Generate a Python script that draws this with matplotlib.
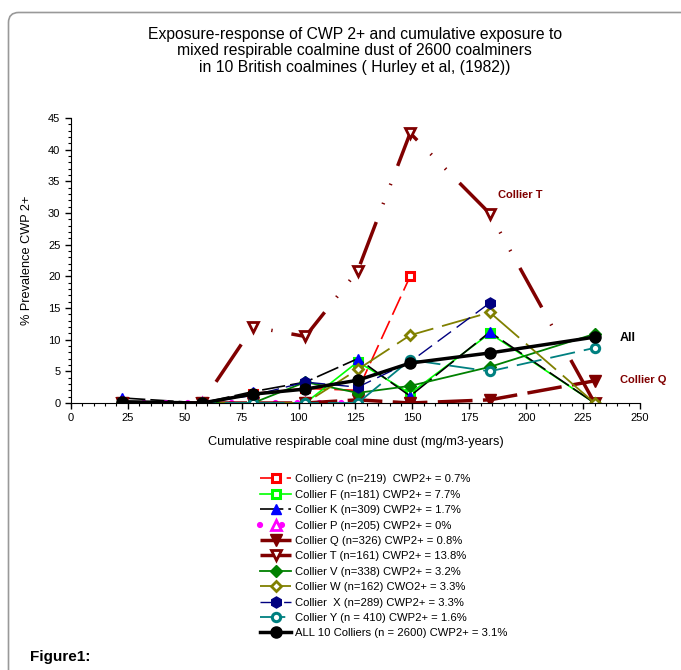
import numpy as np
import matplotlib
matplotlib.use("Agg")
import matplotlib.pyplot as plt
from matplotlib.patches import FancyBboxPatch
from matplotlib.ticker import MultipleLocator

plt.rcParams['font.family'] = ['Liberation Sans', 'DejaVu Sans']

# --- DADOS ---
exposure = [22.5, 57.5, 80, 103, 126, 149, 184, 230]

coll_C = [0, 0, 1.5, 2.3, 2.0, 20.0, np.nan, np.nan]
coll_F = [0, 0, 0, 0, 6.5, 1.5, 11.0, 0]
coll_K = [0.8, 0, 1.8, 3.3, 7.0, 1.1, 11.2, 0]
coll_P = [0, 0, 0, 0, 0, np.nan, np.nan, np.nan]
coll_Q = [0, 0, 0, 0, 0.5, 0, 0.5, 3.5]
coll_T = [0, 0, 12.0, 10.5, 20.9, 42.6, 29.9, 0]
coll_V = [0, 0, 0, 3.3, 1.6, 2.7, 5.7, 10.9]
coll_W = [0, 0, 0, 0, 5.3, 10.7, 14.3, 0]
coll_X = [0, 0, 1.2, 3.3, 2.5, 6.5, 15.8, np.nan]
coll_Y = [0, 0, 0, 0, 0, 6.8, 5.0, 8.7]
all_10 = [0.2, 0, 1.4, 2.2, 3.6, 6.3, 7.9, 10.4]

labels = [
    "Colliery C (n=219)  CWP2+ = 0.7%",
    "Collier F (n=181) CWP2+ = 7.7%",
    "Collier K (n=309) CWP2+ = 1.7%",
    "Collier P (n=205) CWP2+ = 0%",
    "Collier Q (n=326) CWP2+ = 0.8%",
    "Collier T (n=161) CWP2+ = 13.8%",
    "Collier V (n=338) CWP2+ = 3.2%",
    "Collier W (n=162) CWO2+ = 3.3%",
    "Collier  X (n=289) CWP2+ = 3.3%",
    "Collier Y (n = 410) CWP2+ = 1.6%",
    "ALL 10 Colliers (n = 2600) CWP2+ = 3.1%",
]

# --- FIGURA ---
fig = plt.figure(figsize=(6.81, 6.70), dpi=100)
ax = fig.add_axes([0.104, 0.3985, 0.836, 0.4255])

dred = "#800000"
ms = 6

# Colliery C
ax.plot(exposure, coll_C, color="red", lw=1.2, ls=(0, (12, 4)),
        marker="s", ms=ms, mfc="white", mec="red", mew=2.2, label=labels[0])
# Collier F
ax.plot(exposure, coll_F, color="lime", lw=1.2,
        marker="s", ms=ms, mfc="white", mec="lime", mew=2.2, label=labels[1])
# Collier K
ax.plot(exposure, coll_K, color="black", lw=1.2, ls=(0, (14, 3)),
        marker="^", ms=ms + 1.5, mfc="blue", mec="blue", label=labels[2])
# Collier P
ax.plot(exposure, coll_P, color="magenta", lw=4.5, ls=(0, (0.01, 3.5)),
        dash_capstyle="round",
        marker="^", ms=ms + 1, mfc="white", mec="magenta", mew=2, label=labels[3])
# Collier Q
ax.plot(exposure, coll_Q, color=dred, lw=2.5, ls=(0, (10, 3)),
        marker="v", ms=ms + 2, mfc=dred, mec=dred, label=labels[4])
# Collier T
ax.plot(exposure, coll_T, color=dred, lw=2.5, ls=(0, (13, 5.5, 0.4, 5.5, 0.4, 5.5)),
        marker="v", ms=ms + 1.5, mfc="white", mec=dred, mew=2, label=labels[5])
# Collier V
ax.plot(exposure, coll_V, color="green", lw=1.3,
        marker="D", ms=ms, mfc="green", mec="green", label=labels[6])
# Collier W
ax.plot(exposure, coll_W, color="olive", lw=1.3, ls=(0, (22, 5)),
        marker="D", ms=ms - 0.5, mfc="white", mec="olive", mew=2, label=labels[7])
# Collier X
ax.plot(exposure, coll_X, color="navy", lw=1.0, ls=(0, (12, 5)),
        marker="h", ms=ms + 2, mfc="navy", mec="navy", label=labels[8])
# Collier Y
ax.plot(exposure, coll_Y, color="teal", lw=1.3, ls=(0, (14, 5)),
        marker="o", ms=ms, mfc="white", mec="teal", mew=2.2, label=labels[9])
# Todos
ax.plot(exposure, all_10, color="black", lw=2.5,
        marker="o", ms=ms + 2, mfc="black", mec="black", label=labels[10])

ax.set_xlim(0, 250)
ax.set_ylim(0, 45)
ax.xaxis.set_major_locator(MultipleLocator(25))
ax.xaxis.set_minor_locator(MultipleLocator(5))
ax.yaxis.set_major_locator(MultipleLocator(5))
ax.yaxis.set_minor_locator(MultipleLocator(1))
ax.tick_params(which="major", length=4, labelsize=8, width=1)
ax.tick_params(which="minor", length=2.5, width=0.8)
ax.spines["top"].set_visible(False)
ax.spines["right"].set_visible(False)
ax.set_xlabel("Cumulative respirable coal mine dust (mg/m3-years)", fontsize=9.2, labelpad=9)
ax.set_ylabel("% Prevalence CWP 2+", fontsize=9.2, labelpad=11)

# Anotações
ax.text(187.5, 32.8, "Collier T", color=dred, fontsize=8, fontweight="bold", va="center")
ax.text(241, 10.3, "All", color="black", fontsize=9, fontweight="bold", va="center")
ax.text(241, 3.6, "Collier Q", color=dred, fontsize=8, fontweight="bold", va="center")

# Legenda
fig.legend(loc="upper center", bbox_to_anchor=(0.564, 0.307), frameon=False,
           fontsize=8.1, labelspacing=0.48, handlelength=2.7, handletextpad=0.4)

# Título
fig.text(0.521, 0.960,
         "Exposure-response of CWP 2+ and cumulative exposure to\n"
         "mixed respirable coalmine dust of 2600 coalminers\n"
         "in 10 British coalmines ( Hurley et al, (1982))",
         ha="center", va="top", fontsize=11.3, linespacing=1.12)

fig.text(30 / 681, 1 - 657 / 670, "Figure1:", fontsize=11, fontweight="bold", va="center")

# Moldura
frame = FancyBboxPatch((8.5 / 681, -0.1), 1.2, 1.1 - 12.5 / 670,
                       boxstyle="round,pad=0,rounding_size=0.015",
                       transform=fig.transFigure, fill=False,
                       edgecolor="#999999", lw=1.2)
fig.patches.append(frame)

fig.savefig("out.png", dpi=100)
